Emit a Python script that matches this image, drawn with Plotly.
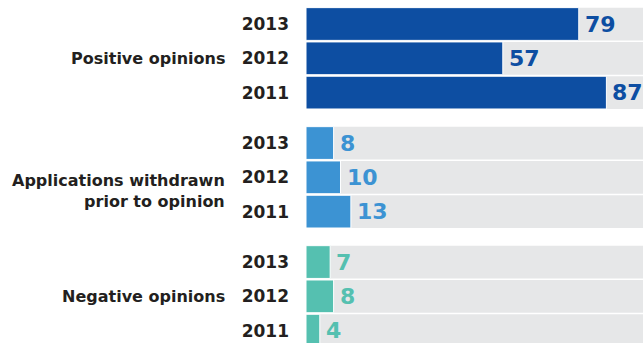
import plotly.graph_objects as go

# Opinion outcomes by year
categories = ["Positive opinions", "Applications withdrawn<br>prior to opinion", "Negative opinions"]
years = ["2013", "2012", "2011"]
positive = [79, 57, 87]
withdrawn = [8, 10, 13]
negative = [7, 8, 4]
series = [positive, withdrawn, negative]
colors = ["#0D4EA2", "#3C93D3", "#55C0B0"]
track_max = 100

GROUP_STEP = 3.47
BAR_WIDTH = 0.955
TEXT_DARK = "#231F20"
FONT = "DejaVu Sans"

fig = go.Figure()

tickvals, ticktext = [], []
for g, (name, vals, col) in enumerate(zip(categories, series, colors)):
    ys = [g * GROUP_STEP + i for i in range(len(years))]
    tickvals += ys
    ticktext += years
    # grey track behind each bar
    fig.add_trace(go.Bar(
        x=[track_max] * len(vals), y=ys, orientation="h", width=BAR_WIDTH,
        marker=dict(color="#E6E7E8", line=dict(width=0)),
        hoverinfo="skip", showlegend=False,
    ))
    fig.add_trace(go.Bar(
        x=vals, y=ys, orientation="h", width=BAR_WIDTH,
        marker=dict(color=col, line=dict(color="white", width=1)),
        name=name, showlegend=False,
    ))
    for v, yv in zip(vals, ys):
        fig.add_annotation(
            x=v, y=yv, xref="x", yref="y", text=str(v), showarrow=False,
            xanchor="left", yanchor="middle", xshift=5, borderpad=0,
            font=dict(family=FONT, size=22, color=col, weight="bold"),
        )
    # group label to the left of the year labels
    label_y = ys[1] + (0.4 if "<br>" in name else 0.0)
    fig.add_annotation(
        x=0, y=label_y, xref="paper", yref="y", text=name, showarrow=False,
        xanchor="right", yanchor="middle", xshift=-79, align="right",
        font=dict(family=FONT, size=16, color=TEXT_DARK, weight="bold"),
    )

fig.update_layout(
    width=643, height=343,
    margin=dict(l=306, r=0, t=0, b=0),
    barmode="overlay",
    paper_bgcolor="white", plot_bgcolor="white",
    xaxis=dict(range=[0, 97.6], visible=False, fixedrange=True),
    yaxis=dict(
        range=[9.30, -0.70], tickvals=tickvals, ticktext=ticktext,
        showgrid=False, zeroline=False, showline=False, ticks="",
        ticklabelstandoff=16,
        tickfont=dict(family=FONT, size=17, color=TEXT_DARK, weight="bold"),
    ),
)

fig.write_html("out.html")
